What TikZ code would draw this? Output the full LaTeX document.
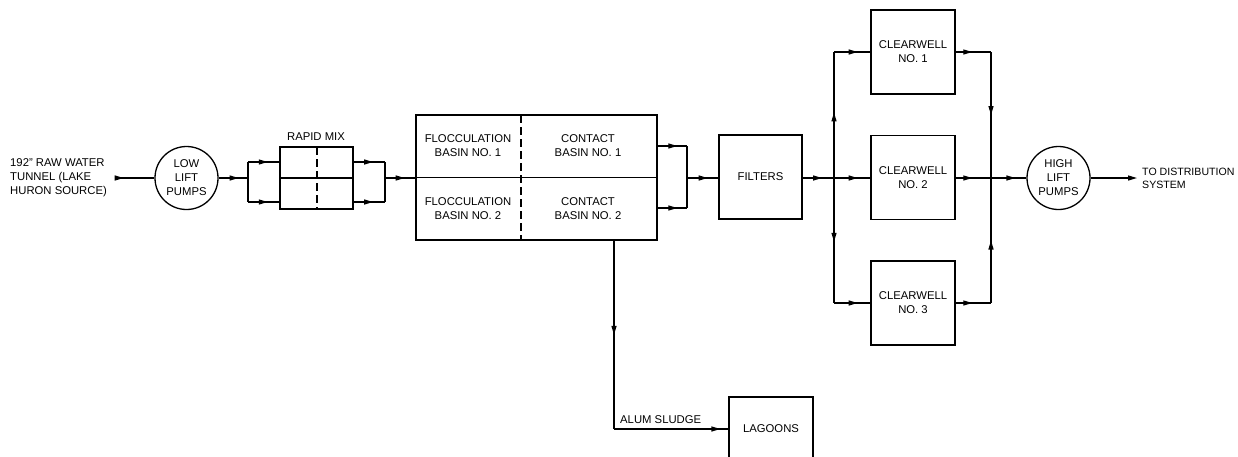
\documentclass[tikz,border=0pt]{standalone}
\usepackage{fontspec}
\setmainfont{Liberation Sans}
\usetikzlibrary{arrows.meta,decorations.markings}
\begin{document}
\begin{tikzpicture}[x=1pt,y=-1pt,
  every node/.style={font=\fontsize{11.3}{14}\selectfont},
  ln/.style={line width=1.3pt},
  box/.style={draw,line width=1.3pt,inner sep=0pt,align=center},
  pump/.style={draw,circle,line width=1.3pt,inner sep=0pt,minimum size=63pt,align=center},
  lbl/.style={inner sep=0pt,align=center},
  ma/.style={ln,postaction={decorate,decoration={markings,mark=at position #1 with {\arrow{Triangle[length=9pt,width=5pt]}}}}}
]
\useasboundingbox (0,0) rectangle (1238,456);
% nodes
\node[lbl,align=left,anchor=west] (src) at (10,177.5) {192" RAW WATER\\TUNNEL (LAKE\\HURON SOURCE)};
\node[pump] (lowlift) at (186.5,178) {LOW\\LIFT\\PUMPS};
\node[box,minimum width=73pt,minimum height=62pt] (rm) at (316.5,178) {};
\node[lbl] (rmlab) at (316,137) {RAPID MIX};
\node[box,minimum width=241pt,minimum height=125pt] (floc) at (536.5,177.5) {};
\node[lbl] (f1) at (468,146) {FLOCCULATION\\BASIN NO. 1};
\node[lbl] (c1) at (588,146) {CONTACT\\BASIN NO. 1};
\node[lbl] (f2) at (468,209) {FLOCCULATION\\BASIN NO. 2};
\node[lbl] (c2) at (588,209) {CONTACT\\BASIN NO. 2};
\node[box,minimum width=83pt,minimum height=84pt] (filters) at (760.5,177) {FILTERS};
\node[box,minimum width=84pt,minimum height=84pt] (cw1) at (913,52) {CLEARWELL\\NO. 1};
\node[box,minimum width=84pt,minimum height=84pt] (cw2) at (913,177.5) {CLEARWELL\\NO. 2};
\node[box,minimum width=84pt,minimum height=84pt] (cw3) at (913,303) {CLEARWELL\\NO. 3};
\node[pump] (highlift) at (1058.5,178) {HIGH\\LIFT\\PUMPS};
\node[lbl,align=left,anchor=west,font=\fontsize{10.6}{13}\selectfont] (dist) at (1142,178) {TO DISTRIBUTION\\SYSTEM};
\node[box,minimum width=84pt,minimum height=64pt] (lagoons) at (771,429) {LAGOONS};
\node[lbl,anchor=west] (alum) at (620,420) {ALUM SLUDGE};
% internal dividers
\draw[ln] (rm.west) -- (rm.east);
\draw[ln,dashed,dash pattern=on 8pt off 4pt] (317,147) -- (317,209);
\draw[ln] (floc.west) -- (floc.east);
\draw[ln,dashed,dash pattern=on 8pt off 4pt] (521,115) -- (521,240);
% coordinates
\coordinate (in) at (115,178);
\coordinate (j1) at (248,178); \coordinate (j1t) at (248,162); \coordinate (j1b) at (248,202);
\coordinate (j2) at (385,178); \coordinate (j2t) at (385,162); \coordinate (j2b) at (385,202);
\coordinate (j3) at (687,178); \coordinate (j3t) at (687,146); \coordinate (j3b) at (687,208);
\coordinate (j4) at (834,178); \coordinate (j4t) at (834,52); \coordinate (j4b) at (834,303);
\coordinate (j5) at (991,178); \coordinate (j5t) at (991,52); \coordinate (j5b) at (991,303);
\coordinate (sl) at (614,429);
% connectors
\draw[ma=0.22] (in) -- (lowlift);
\draw[ma=0.68] (lowlift) -- (j1);
\draw[ln] (j1t) -- (j1b);
\draw[ma=0.63] (j1t) -- (rm.west |- j1t);
\draw[ma=0.63] (j1b) -- (rm.west |- j1b);
\draw[ma=0.62] (rm.east |- j2t) -- (j2t);
\draw[ma=0.62] (rm.east |- j2b) -- (j2b);
\draw[ln] (j2t) -- (j2b);
\draw[ma=0.65] (j2) -- (floc.west |- j2);
\draw[ma=0.67] (floc.east |- j3t) -- (j3t);
\draw[ma=0.67] (floc.east |- j3b) -- (j3b);
\draw[ln] (j3t) -- (j3b);
\draw[ma=0.66] (j3) -- (filters.west |- j3);
\draw[ma=0.62] (filters.east |- j4) -- (j4);
\draw[ma=0.65] (j4) -- (cw2.west |- j4);
\draw[ma=0.52] (j4) -- (j4t);
\draw[ma=0.51] (j4) -- (j4b);
\draw[ma=0.65] (j4t) -- (cw1);
\draw[ma=0.65] (j4b) -- (cw3);
\draw[ma=0.47] (cw1) -- (j5t);
\draw[ma=0.47] (cw2.east |- j5) -- (j5);
\draw[ma=0.47] (cw3) -- (j5b);
\draw[ma=0.5] (j5t) -- (j5);
\draw[ma=0.5] (j5b) -- (j5);
\draw[ma=0.69] (j5) -- (highlift);
\draw[ln,-{Triangle[length=9pt,width=5pt]}] (highlift) -- ([xshift=-5pt]dist.west);
\draw[ma=0.5] (sl |- floc.south) -- (sl);
\draw[ma=0.93] (sl) -- (lagoons);
\end{tikzpicture}
\end{document}
